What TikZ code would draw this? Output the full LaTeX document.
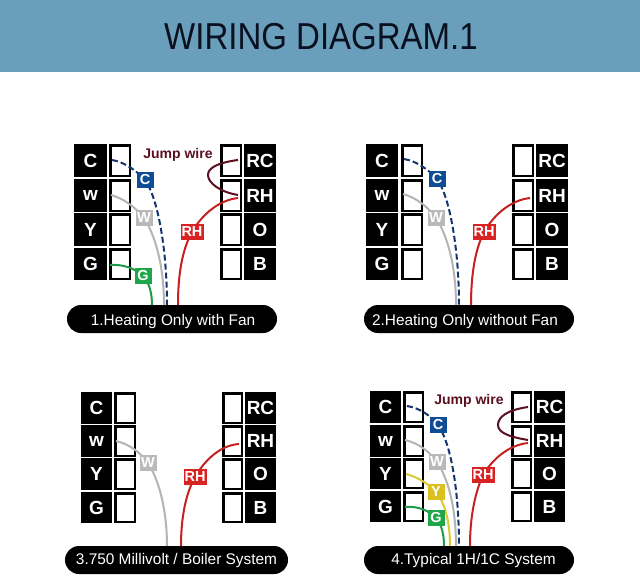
\documentclass[tikz,border=0pt]{standalone}
\usepackage{fontspec}
\setmainfont{Liberation Sans}
\definecolor{hdr}{HTML}{6A9FBC}
\definecolor{navywire}{HTML}{14356E}
\definecolor{navytag}{HTML}{0F4C96}
\definecolor{greywire}{HTML}{B4B4B4}
\definecolor{greytag}{HTML}{B9B9B9}
\definecolor{redwire}{HTML}{C8201F}
\definecolor{redtag}{HTML}{D92323}
\definecolor{greenwire}{HTML}{1E9A48}
\definecolor{greentag}{HTML}{1FA64A}
\definecolor{yelwire}{HTML}{DCCB35}
\definecolor{yeltag}{HTML}{DCC020}
\definecolor{jump}{HTML}{5A1020}
\definecolor{titleink}{HTML}{0A1020}
\tikzset{
  x=1pt,y=-1pt,
  termbox/.style={fill=black,text=white,inner sep=0pt,font=\fontsize{19}{19}\selectfont\bfseries},
  slotbox/.style={fill=white,draw=black,line width=2.5pt,inner sep=0pt},
  tagbox/.style={text=white,inner sep=0pt,minimum height=16pt,font=\fontsize{14.5}{14.5}\selectfont\bfseries},
  pill/.style={rounded corners=14pt,fill=black,text=white,inner sep=0pt,minimum height=28pt,font=\fontsize{15.4}{15.4}\selectfont},
  pillupper/.style={pill,text height=12pt,text depth=0pt},
  pilllower/.style={pill,text height=10pt,text depth=1pt},
  jumplabel/.style={text=jump,inner sep=0pt,font=\fontsize{14}{14}\selectfont\bfseries},
  wire/.style={line width=2pt},
  dashwire/.style={line width=2pt,navywire,dash pattern=on 6pt off 3pt},
}
\newcommand{\termpanel}[9]{%
  \foreach \rT/\rB/\tL/\tR/\rK in \rows {
    \pgfmathsetmacro{\pcy}{(\rT+\rB)/2}
    \pgfmathsetmacro{\phh}{\rB-\rT}
    \pgfmathsetmacro{\phs}{\rB-\rT-2.5}
    \pgfmathsetmacro{\pca}{(#2+#3)/2}\pgfmathsetmacro{\pwa}{#3-#2}
    \pgfmathsetmacro{\pcb}{(#4+#5)/2}\pgfmathsetmacro{\pwb}{#5-#4-2.5}
    \pgfmathsetmacro{\pcc}{(#6+#7)/2}\pgfmathsetmacro{\pwc}{#7-#6-2.5}
    \pgfmathsetmacro{\pcd}{(#8+#9)/2}\pgfmathsetmacro{\pwd}{#9-#8}
    \node[termbox,minimum width=\pwa pt,minimum height=\phh pt] (#1L\rK) at (\pca,\pcy) {\tL};
    \node[slotbox,minimum width=\pwb pt,minimum height=\phs pt] (#1l\rK) at (\pcb,\pcy) {};
    \node[slotbox,minimum width=\pwc pt,minimum height=\phs pt] (#1r\rK) at (\pcc,\pcy) {};
    \node[termbox,minimum width=\pwd pt,minimum height=\phh pt] (#1R\rK) at (\pcd,\pcy) {\tR};
  }}
\begin{document}
\begin{tikzpicture}
\useasboundingbox (0,0) rectangle (640,578);
\fill[white] (0,0) rectangle (640,578);
\node[fill=hdr,minimum width=640pt,minimum height=72pt,inner sep=0pt,anchor=north west] (header) at (0,0) {};
\node[inner sep=0pt,text=titleink,font=\fontsize{37.5}{37.5}\selectfont] (title) at (321,36.5) {\scalebox{0.88}[1]{WIRING DIAGRAM.1}};

% ---------- panel 1
\def\rows{144/177/C/RC/a,179/212/w/RH/b,213/246/Y/O/c,248/280/G/B/d}
\termpanel{A}{74}{107}{109}{131}{220}{242}{244}{276}
\node[pillupper,minimum width=210pt] (Ap) at (172,319) {\hspace*{2pt}1.Heating Only with Fan};
\coordinate (Ac0) at (112,160); \coordinate (Ac1) at (145,180); \coordinate (Ac2) at (167,305);
\coordinate (Aw0) at (111,195); \coordinate (Aw1) at (144,218); \coordinate (Aw2) at (164,305);
\coordinate (Ag0) at (110,265); \coordinate (Ag1) at (143,276); \coordinate (Ag2) at (152,305);
\coordinate (Ar0) at (238,198); \coordinate (Ar1) at (192,232); \coordinate (Ar2) at (178,305);
\coordinate (Aj0) at (238,160); \coordinate (Aj1) at (208,175); \coordinate (Aj2) at (238,195);
\draw[wire,greywire] (Aw0) .. controls (125,199) and (136,208) .. (Aw1) .. controls (155,235) and (164,265) .. (Aw2);
\draw[dashwire] (Ac0) .. controls (125,162) and (138,172) .. (Ac1) .. controls (158,198) and (167,250) .. (Ac2);
\draw[wire,greenwire] (Ag0) .. controls (122,264) and (135,268) .. (Ag1) .. controls (150,283) and (152,295) .. (Ag2);
\draw[wire,redwire] (Ar0) .. controls (220,200) and (203,213) .. (Ar1) .. controls (182,250) and (178,275) .. (Ar2);
\draw[wire,jump] (Aj0) .. controls (215,163) and (208,169) .. (Aj1) .. controls (208,183) and (220,192) .. (Aj2);
\node[tagbox,fill=navytag,minimum width=17pt] (Atc) at (Ac1) {C};
\node[tagbox,fill=greytag,minimum width=17pt] (Atw) at (Aw1) {W};
\node[tagbox,fill=greentag,minimum width=17pt] (Atg) at (Ag1) {G};
\node[tagbox,fill=redtag,minimum width=23pt] (Atr) at (Ar1) {RH};
\node[jumplabel] (Aj) at (178,155) {Jump wire};

% ---------- panel 2
\termpanel{B}{366}{398}{401}{423}{512}{534}{536}{568}
\node[pillupper,minimum width=210pt] (Bp) at (469,319) {2.Heating Only without Fan\hspace*{8pt}};
\coordinate (Bc0) at (404,159); \coordinate (Bc1) at (437,179); \coordinate (Bc2) at (459,305);
\coordinate (Bw0) at (403,194); \coordinate (Bw1) at (436,218); \coordinate (Bw2) at (456,305);
\coordinate (Br0) at (530,198); \coordinate (Br1) at (484,232); \coordinate (Br2) at (471,305);
\draw[wire,greywire] (Bw0) .. controls (417,198) and (428,207) .. (Bw1) .. controls (447,235) and (456,265) .. (Bw2);
\draw[dashwire] (Bc0) .. controls (417,161) and (430,171) .. (Bc1) .. controls (450,197) and (459,250) .. (Bc2);
\draw[wire,redwire] (Br0) .. controls (512,200) and (495,213) .. (Br1) .. controls (475,250) and (471,275) .. (Br2);
\node[tagbox,fill=navytag,minimum width=17pt] (Btc) at (Bc1) {C};
\node[tagbox,fill=greytag,minimum width=17pt] (Btw) at (Bw1) {W};
\node[tagbox,fill=redtag,minimum width=23pt] (Btr) at (Br1) {RH};

% ---------- panel 3
\def\rows{392/424/C/RC/a,425/457/w/RH/b,458/490/Y/O/c,492/523/G/B/d}
\termpanel{C}{81}{112}{114}{136}{222}{243}{245}{276}
\node[pilllower,minimum width=223pt] (Cp) at (176.5,560) {3.750 Millivolt / Boiler System};
\coordinate (Cw0) at (116,441); \coordinate (Cw1) at (148,463); \coordinate (Cw2) at (167,546);
\coordinate (Cr0) at (239,444); \coordinate (Cr1) at (195,477); \coordinate (Cr2) at (181,546);
\draw[wire,greywire] (Cw0) .. controls (129,444) and (140,452) .. (Cw1) .. controls (159,480) and (167,510) .. (Cw2);
\draw[wire,redwire] (Cr0) .. controls (222,445) and (206,458) .. (Cr1) .. controls (185,495) and (181,520) .. (Cr2);
\node[tagbox,fill=greytag,minimum width=17pt] (Ctw) at (Cw1) {W};
\node[tagbox,fill=redtag,minimum width=23pt] (Ctr) at (Cr1) {RH};

% ---------- panel 4
\def\rows{391/423/C/RC/a,425/457/w/RH/b,458/489/Y/O/c,491/522/G/B/d}
\termpanel{D}{370}{401}{403}{424}{511}{532}{534}{565}
\node[pilllower,minimum width=210pt] (Dp) at (469,560) {\hspace*{9pt}4.Typical 1H/1C System};
\coordinate (Dc0) at (407,406); \coordinate (Dc1) at (438,425); \coordinate (Dc2) at (459,546);
\coordinate (Dw0) at (405,440); \coordinate (Dw1) at (437,462); \coordinate (Dw2) at (456,546);
\coordinate (Dy0) at (406,474); \coordinate (Dy1) at (436,492); \coordinate (Dy2) at (450,546);
\coordinate (Dg0) at (405,507); \coordinate (Dg1) at (436,518); \coordinate (Dg2) at (444,546);
\coordinate (Dr0) at (528,443); \coordinate (Dr1) at (483,475); \coordinate (Dr2) at (470,546);
\coordinate (Dj0) at (528,407); \coordinate (Dj1) at (498,425); \coordinate (Dj2) at (528,440);
\draw[wire,greywire] (Dw0) .. controls (418,443) and (429,451) .. (Dw1) .. controls (449,480) and (456,510) .. (Dw2);
\draw[dashwire] (Dc0) .. controls (420,408) and (431,416) .. (Dc1) .. controls (452,445) and (459,495) .. (Dc2);
\draw[wire,yelwire] (Dy0) .. controls (417,477) and (428,483) .. (Dy1) .. controls (446,504) and (450,525) .. (Dy2);
\draw[wire,greenwire] (Dg0) .. controls (418,506) and (428,510) .. (Dg1) .. controls (442,525) and (444,535) .. (Dg2);
\draw[wire,redwire] (Dr0) .. controls (510,445) and (494,457) .. (Dr1) .. controls (474,495) and (470,520) .. (Dr2);
\draw[wire,jump] (Dj0) .. controls (507,410) and (498,417) .. (Dj1) .. controls (498,433) and (510,437) .. (Dj2);
\node[tagbox,fill=navytag,minimum width=17pt] (Dtc) at (Dc1) {C};
\node[tagbox,fill=greytag,minimum width=17pt] (Dtw) at (Dw1) {W};
\node[tagbox,fill=yeltag,minimum width=17pt] (Dty) at (Dy1) {Y};
\node[tagbox,fill=greentag,minimum width=17pt] (Dtg) at (Dg1) {G};
\node[tagbox,fill=redtag,minimum width=23pt] (Dtr) at (Dr1) {RH};
\node[jumplabel] (Dj) at (469,401) {Jump wire};
\end{tikzpicture}
\end{document}
